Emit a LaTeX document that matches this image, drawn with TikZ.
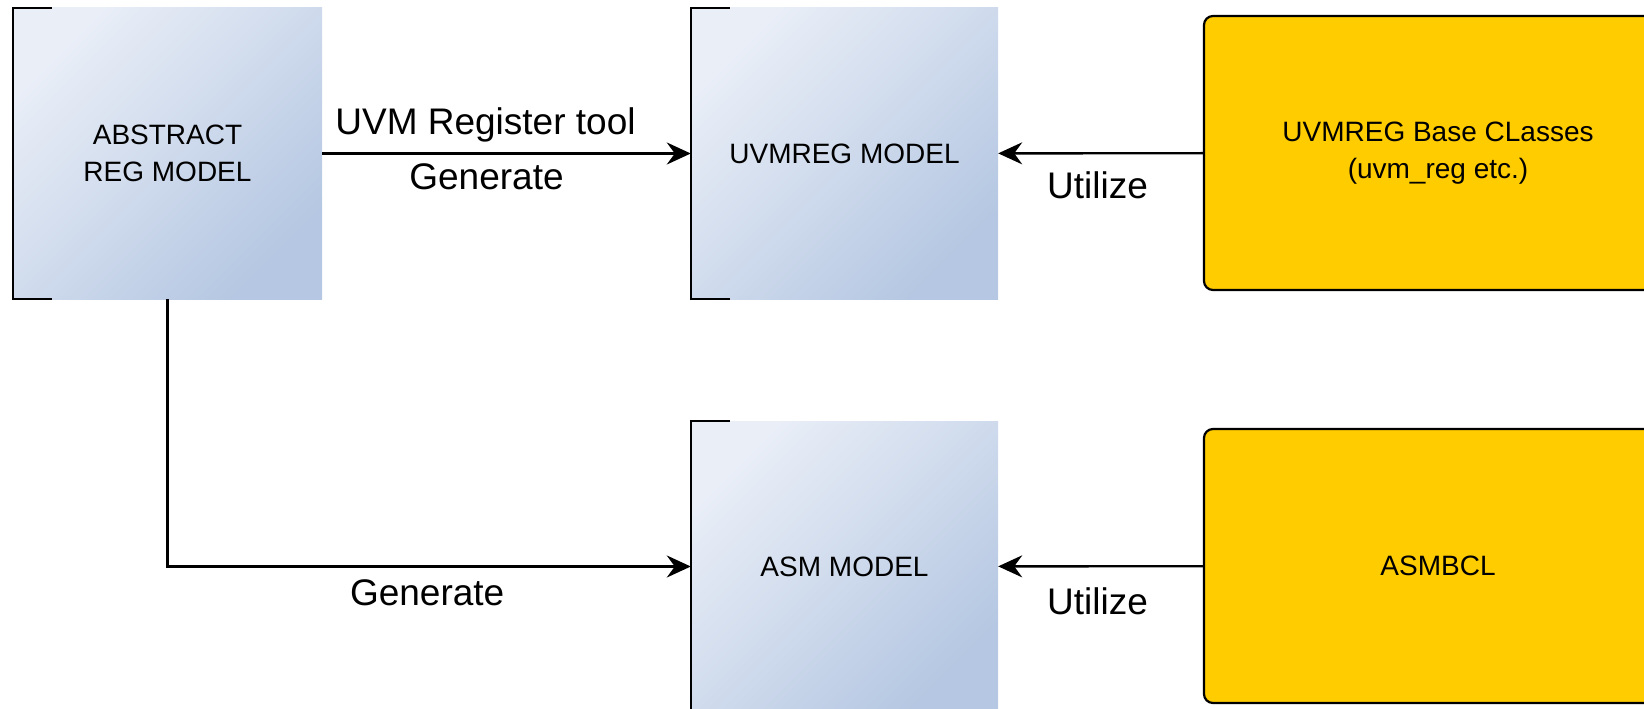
\documentclass[tikz,border=0pt]{standalone}
\usepackage{fontspec}
\setmainfont{Liberation Sans}
\usepackage{xcolor}
\usetikzlibrary{arrows.meta}

\definecolor{modelLight}{HTML}{E9EEF7}
\definecolor{modelDark}{HTML}{B5C7E2}
\definecolor{classGold}{HTML}{FFCC00}

\begin{document}
\begin{tikzpicture}[x=1pt, y=-1pt,
  modelbox/.style={minimum width=307pt, minimum height=291pt, inner sep=0pt,
    top color=modelLight, bottom color=modelDark, shading angle=45,
    align=center, font=\fontsize{28}{37}\selectfont},
  classbox/.style={draw, line width=2.2pt, rounded corners=9pt, fill=classGold,
    minimum width=468pt, minimum height=274pt, align=center,
    font=\fontsize{28}{37}\selectfont},
  flow/.style={line width=2.4pt, -{Stealth[length=24pt, width=22pt, inset=8pt]}},
  lbl/.style={font=\fontsize{37}{42}\selectfont}]
\useasboundingbox (0,0) rectangle (1644,709);
\clip (0,0) rectangle (1644,709);

\node[modelbox, minimum width=309pt] (abs) at (167.5,153.5) {ABSTRACT\\REG MODEL};
\node[modelbox] (uvm) at (844.5,153.5) {UVMREG MODEL};
\node[modelbox] (asm) at (844.5,566.5) {ASM MODEL};
\node[classbox] (cls) at (1438,153) {UVMREG Base CLasses\\(uvm\_reg etc.)};
\node[classbox] (bcl) at (1438,566) {ASMBCL};

% bracket edges on the model boxes
\foreach \n in {abs,uvm,asm}
  \draw[line width=2.4pt] ([xshift=39pt]\n.north west) -- (\n.north west)
    -- (\n.south west) -- ([xshift=39pt]\n.south west);

\draw[flow] (abs) -- (uvm)
  node[lbl, midway, xshift=-21pt, yshift=29pt] {UVM Register tool}
  node[lbl, midway, xshift=-20pt, yshift=-23pt] {Generate};
\draw[flow] (cls) -- (uvm) node[lbl, midway, xshift=-3pt, yshift=-32pt] {Utilize};
\draw[flow] (abs) |- (asm) node[lbl, pos=0.75, xshift=-2pt, yshift=-26pt] {Generate};
\draw[flow] (bcl) -- (asm) node[lbl, midway, xshift=-3pt, yshift=-35pt] {Utilize};
\end{tikzpicture}
\end{document}
